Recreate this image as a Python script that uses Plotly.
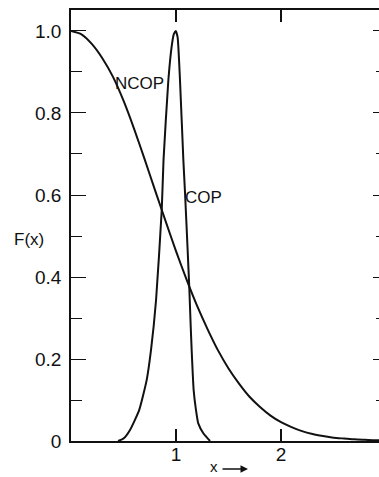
import plotly.graph_objects as go

# NCOP curve
ncop_x = [0.0, 0.1, 0.2, 0.3, 0.4, 0.5, 0.6, 0.7, 0.8, 0.9, 1.0, 1.1, 1.2, 1.3, 1.4,
          1.5, 1.6, 1.7, 1.8, 1.9, 2.0, 2.1, 2.2, 2.3, 2.4, 2.5, 2.6, 2.7, 2.8, 2.9, 2.95]
ncop_y = [1.000, 0.992, 0.968, 0.933, 0.888, 0.830, 0.762, 0.688, 0.612, 0.537, 0.463,
          0.394, 0.330, 0.273, 0.221, 0.177, 0.140, 0.108, 0.083, 0.062, 0.046, 0.034,
          0.024, 0.017, 0.012, 0.008, 0.006, 0.004, 0.003, 0.002, 0.002]

# COP curve
cop_x = [0.448, 0.500, 0.562, 0.650, 0.721, 0.762, 0.810, 0.864, 0.881, 0.927, 0.960,
         0.980, 0.997, 1.015, 1.038, 1.070, 1.086, 1.110, 1.127, 1.140, 1.149, 1.168,
         1.190, 1.212, 1.260, 1.324]
cop_y = [0.000, 0.006, 0.027, 0.076, 0.149, 0.222, 0.344, 0.563, 0.685, 0.880, 0.965,
         0.993, 1.000, 0.985, 0.880, 0.685, 0.605, 0.470, 0.370, 0.280, 0.222, 0.124,
         0.076, 0.043, 0.019, 0.000]

y_tickvals = [0, 0.2, 0.4, 0.6, 0.8, 1.0]
y_ticktext = ["0", "0.2", "0.4", "0.6", "0.8", "1.0"]
x_tickvals = [1, 2]
x_ticktext = ["1", "2"]

FONT = "Liberation Sans, Arial, sans-serif"
INK = "#111111"
XR = [0, 2.933]
YR = [0, 1.0512]

fig = go.Figure()
fig.add_trace(go.Scatter(x=ncop_x, y=ncop_y, mode="lines", line=dict(color=INK, width=2, shape="spline", smoothing=0.6),
                         hoverinfo="skip", showlegend=False))
fig.add_trace(go.Scatter(x=cop_x, y=cop_y, mode="lines", line=dict(color=INK, width=2, shape="spline", smoothing=0.5),
                         hoverinfo="skip", showlegend=False))
# invisible trace to carry the right-hand tick axis
fig.add_trace(go.Scatter(x=ncop_x, y=ncop_y, mode="lines", yaxis="y2", opacity=0,
                         hoverinfo="skip", showlegend=False))

fig.update_layout(
    width=379, height=477,
    margin=dict(l=71, r=0, t=10, b=36, autoexpand=False),
    paper_bgcolor="white", plot_bgcolor="white",
    font=dict(family=FONT, color=INK, size=19),
    xaxis=dict(range=XR, showgrid=False, zeroline=False, showline=True, linecolor=INK, linewidth=1.5,
               mirror="ticks", ticks="inside", ticklen=12, tickwidth=1.5, tickcolor=INK,
               tickvals=x_tickvals, ticktext=x_ticktext, tickfont=dict(size=19), automargin=False,
               ticklabelstandoff=-5),
    yaxis=dict(range=YR, showgrid=False, zeroline=False, showline=True, linecolor=INK, linewidth=1.5,
               ticks="inside", ticklen=15, tickwidth=1.2, tickcolor=INK,
               tickvals=y_tickvals, ticktext=y_ticktext, tickfont=dict(size=19),
               ticklabelstandoff=4, automargin=False,
               minor=dict(tickvals=[0.1, 0.3, 0.5, 0.7, 0.9], ticks="inside", ticklen=11,
                          tickwidth=1.2, tickcolor=INK)),
    yaxis2=dict(range=YR, overlaying="y", side="right", showgrid=False, zeroline=False, showline=False,
                ticks="inside", ticklen=6, tickwidth=1.2, tickcolor=INK, tickvals=y_tickvals,
                showticklabels=False, automargin=False,
                minor=dict(tickvals=[0.1, 0.3, 0.5, 0.7, 0.9], ticks="inside", ticklen=3,
                           tickwidth=1.2, tickcolor=INK)),
    annotations=[
        dict(x=0.657, y=0.873, xref="x", yref="y", text="NCOP", showarrow=False, font=dict(size=17)),
        dict(x=1.262, y=0.593, xref="x", yref="y", text="COP", showarrow=False, font=dict(size=17)),
        dict(x=-0.1364, y=0.4664, xref="paper", yref="paper", xanchor="center", yanchor="middle",
             text="F(x)", showarrow=False, font=dict(size=17)),
        dict(x=0.4643, y=-0.0603, xref="paper", yref="paper", xanchor="center", yanchor="middle",
             text="x", showarrow=False, font=dict(size=15)),
        dict(x=0.5747, y=-0.065, xref="paper", yref="paper", ax=-27, ay=0,
             text="", showarrow=True, arrowhead=2, arrowsize=1, arrowwidth=1.5, arrowcolor=INK),
    ],
)

post = ("document.body.style.margin='0';document.body.style.padding='0';"
        "document.body.style.overflow='hidden';"
        "Plotly.relayout('{plot_id}', {width: 379, height: 477});")
fig.write_html("out.html", config={"responsive": False, "displayModeBar": False}, post_script=post)
